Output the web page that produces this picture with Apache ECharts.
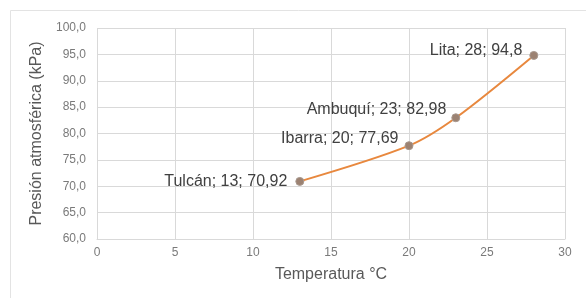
<!DOCTYPE html>
<html>
<head>
<meta charset="utf-8">
<script src="https://cdn.jsdelivr.net/npm/echarts@6/dist/echarts.min.js"></script>
<style>
html, body { margin: 0; padding: 0; background: #fff; }
#chart { width: 586px; height: 298px; }
</style>
</head>
<body>
<div id="chart"></div>
<script>
var ciudades = ['Tulcán', 'Ibarra', 'Ambuquí', 'Lita'];
var temperaturas = [13, 20, 23, 28];
var presiones = [70.92, 77.69, 82.98, 94.8];
var xTicks = [0, 5, 10, 15, 20, 25, 30];
var yTicks = [60, 65, 70, 75, 80, 85, 90, 95, 100];

// desplazamiento de cada etiqueta respecto al punto
var offsets = [[-3, 0], [-1, -7], [0, -8], [-2, -5]];

var mychart = echarts.init(document.getElementById('chart'));

var puntos = [];
for (var i = 0; i < ciudades.length; i++) {
    puntos.push({
        value: [temperaturas[i], presiones[i]],
        name: ciudades[i],
        label: { offset: offsets[i] }
    });
}

function coma(v) {
    return String(v).replace('.', ',');
}

var option = {
    animation: false,
    textStyle: { fontFamily: 'Liberation Sans' },
    graphic: [{
        type: 'rect',
        shape: { x: 10.5, y: 10.5, width: 600, height: 320 },
        style: { fill: 'none', stroke: '#e3e3e3', lineWidth: 1 },
        silent: true
    }],
    grid: { left: 97, right: 21, top: 28, bottom: 59 },
    xAxis: {
        type: 'value',
        min: xTicks[0],
        max: xTicks[xTicks.length - 1],
        interval: 5,
        name: 'Temperatura °C',
        nameLocation: 'middle',
        nameGap: 28,
        nameTextStyle: { color: '#595959', fontSize: 16 },
        axisLine: { show: true, lineStyle: { color: '#d9d9d9' } },
        axisTick: { show: false },
        axisLabel: { color: '#7a7a7a', fontSize: 12, margin: 8 },
        splitLine: { show: true, lineStyle: { color: '#d9d9d9' } }
    },
    yAxis: {
        type: 'value',
        min: yTicks[0],
        max: yTicks[yTicks.length - 1],
        interval: 5,
        name: 'Presión atmosférica (kPa)',
        nameLocation: 'middle',
        nameGap: 47,
        nameTextStyle: { color: '#595959', fontSize: 16 },
        axisLine: { show: false },
        axisTick: { show: false },
        axisLabel: {
            color: '#7a7a7a', fontSize: 12, margin: 11,
            formatter: function (v) { return v.toFixed(1).replace('.', ','); }
        },
        splitLine: { show: true, lineStyle: { color: '#d9d9d9' } }
    },
    series: [{
        type: 'line',
        data: puntos,
        smooth: 0.3,
        symbol: 'circle',
        symbolSize: 8,
        lineStyle: { color: '#e8883e', width: 2 },
        itemStyle: { color: '#9c8272', borderColor: '#a8998f', borderWidth: 1 },
        label: {
            show: true,
            position: 'left',
            color: '#404040',
            fontSize: 16,
            formatter: function (p) {
                return p.name + '; ' + coma(p.value[0]) + '; ' + coma(p.value[1]);
            }
        }
    }]
};
mychart.setOption(option);
</script>
</body>
</html>
